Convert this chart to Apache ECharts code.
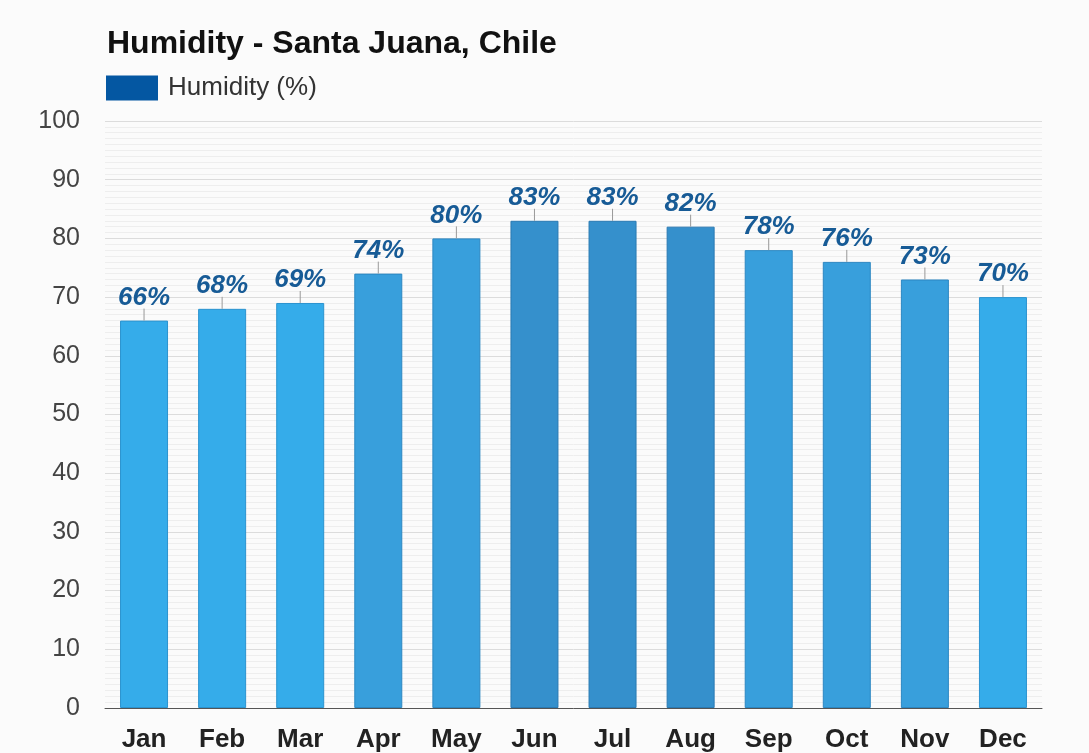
<!DOCTYPE html>
<html>
<head>
<meta charset="utf-8">
<script src="https://cdn.jsdelivr.net/npm/echarts@6/dist/echarts.min.js"></script>
<style>
  html, body { margin: 0; padding: 0; background: #ffffff; }
  #chart { width: 1089px; height: 753px; }
</style>
</head>
<body>
<div id="chart"></div>
<script>
// Monthly average relative humidity, Santa Juana, Chile
const months = ['Jan', 'Feb', 'Mar', 'Apr', 'May', 'Jun', 'Jul', 'Aug', 'Sep', 'Oct', 'Nov', 'Dec'];
const humidity = [66, 68, 69, 74, 80, 83, 83, 82, 78, 76, 73, 70];
const yTicks = [0, 10, 20, 30, 40, 50, 60, 70, 80, 90, 100];

const FONT = 'Liberation Sans, Arial, sans-serif';

// Shade bars darker as humidity rises
function barColor(v) {
  if (v >= 82) return '#3590cc';
  if (v >= 73) return '#389fdc';
  return '#35acea';
}
function borderColor(v) {
  if (v >= 82) return '#2a7ab3';
  if (v >= 73) return '#2c87c2';
  return '#2b93cf';
}

const chart = echarts.init(document.getElementById('chart'), null, { renderer: 'canvas' });

chart.setOption({
  backgroundColor: '#fbfbfb',
  animation: false,
  title: {
    text: 'Humidity - Santa Juana, Chile',
    left: 102,
    top: 23,
    textStyle: { fontFamily: FONT, fontSize: 32, fontWeight: 'bold', color: '#111' }
  },
  legend: {
    left: 106,
    top: 75,
    padding: 0,
    itemWidth: 52,
    itemHeight: 25,
    textStyle: { fontFamily: FONT, fontSize: 26, color: '#333', padding: [0, 0, 0, 5] },
    data: [{ name: 'Humidity (%)', icon: 'rect', itemStyle: { color: '#0457a2', borderWidth: 0 } }]
  },
  grid: { left: 105, right: 47, top: 121, bottom: 45, containLabel: false },
  xAxis: {
    type: 'category',
    data: months,
    axisLine: { show: true, lineStyle: { color: '#555', width: 1 } },
    axisTick: { show: false },
    axisLabel: {
      margin: 19,
      fontFamily: FONT,
      fontSize: 26, fontWeight: 'bold', color: '#222'
    }
  },
  yAxis: {
    type: 'value',
    min: yTicks[0],
    max: yTicks[yTicks.length - 1],
    interval: yTicks[1] - yTicks[0],
    axisLine: { show: false },
    axisTick: { show: false },
    axisLabel: {
      margin: 25,
      fontFamily: FONT,
      fontSize: 25, color: '#444'
    },
    splitLine: { show: true, lineStyle: { color: '#dcdcdc', width: 1 } },
    minorTick: { show: false, splitNumber: 10 },
    minorSplitLine: { show: true, lineStyle: { color: '#eeeeee', width: 1 } }
  },
  series: [
    {
      name: 'Humidity (%)',
      type: 'bar',
      barWidth: 48,
      data: humidity.map(v => ({
        value: v,
        itemStyle: { color: barColor(v), borderColor: borderColor(v), borderWidth: 1 }
      })),
      label: {
        show: true,
        position: 'top',
        distance: 10,
        formatter: p => p.value + '%',
        fontFamily: FONT,
        fontSize: 26,
        fontWeight: 'bold',
        fontStyle: 'italic',
        color: '#175b96'
      },
      z: 2
    },
    {
      // short leader lines from each bar top up to its value label
      name: 'leader',
      type: 'custom',
      silent: true,
      z: 3,
      data: humidity.map((v, i) => [i, v]),
      renderItem: function (params, api) {
        const p = api.coord([api.value(0), api.value(1)]);
        return {
          type: 'line',
          shape: { x1: p[0], y1: p[1], x2: p[0], y2: p[1] - 12 },
          style: { stroke: '#999', lineWidth: 1 }
        };
      }
    }
  ]
});
</script>
</body>
</html>
